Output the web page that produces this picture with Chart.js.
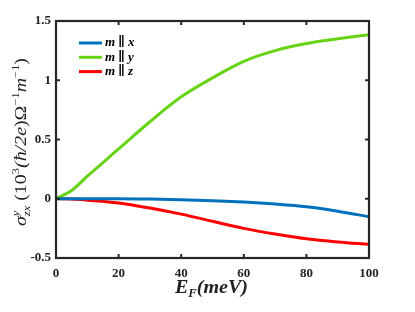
<!DOCTYPE html>
<html><head><meta charset="utf-8">
<script src="https://cdn.jsdelivr.net/npm/chart.js@4/dist/chart.umd.min.js"></script>
<style>html,body{margin:0;padding:0;background:#fff}#wrap{width:415px;height:312px}</style>
</head><body><div id="wrap"><canvas id="c" width="415" height="312"></canvas></div>
<script>
const energies = [0, 5, 10, 20, 30, 40, 50, 60, 70, 80, 90, 100];
const sigmaX = [0, 0, 0, 0, -0.003, -0.008, -0.016, -0.028, -0.045, -0.068, -0.105, -0.152];
const sigmaY = [0, 0.07, 0.19, 0.42, 0.65, 0.86, 1.02, 1.16, 1.25, 1.31, 1.35, 1.385];
const sigmaZ = [0, -0.003, -0.012, -0.035, -0.078, -0.13, -0.19, -0.25, -0.298, -0.338, -0.365, -0.385];
const seriesLabels = ['x', 'y', 'z'];
const xTicks = [0, 20, 40, 60, 80, 100];
const yTicks = [-0.5, 0, 0.5, 1, 1.5];
const colors = ['#0072BD', '#66D414', '#FF0000'];

const mk = (vals) => energies.map((e, i) => ({x: e, y: vals[i]}));
const AX = '#262626';
const SERIF = '"Liberation Serif", "DejaVu Serif", serif';

function drawRich(ctx, parts, targetW) {
  // parts: [text, font, dy, mode] mode: 0 normal, -1 sup (stacked), 1 sub stacked under previous sup
  const measure = () => {
    let w = 0, prevW = 0;
    parts.forEach(p => {
      ctx.font = p[1] + ' ' + SERIF;
      const mw = ctx.measureText(p[0]).width;
      if (p[3] < 0) { prevW = mw; w += mw; }
      else if (p[3] > 0) { w += Math.max(0, mw - prevW); }
      else { w += mw; }
    });
    return w;
  };
  const w = measure();
  ctx.scale(targetW / w, 1);
  let cx = -w / 2, prevW = 0;
  parts.forEach(p => {
    ctx.font = p[1] + ' ' + SERIF;
    const mw = ctx.measureText(p[0]).width;
    if (p[3] > 0) { cx -= prevW; }
    ctx.fillText(p[0], cx, p[2]);
    if (p[3] < 0) { prevW = mw; cx += mw; }
    else if (p[3] > 0) { cx += Math.max(mw, prevW); }
    else { cx += mw; }
  });
}

const framePlugin = {
  id: 'frame',
  afterDraw(chart) {
    const {ctx, chartArea: a, scales} = chart;
    ctx.save();
    ctx.strokeStyle = AX; ctx.lineWidth = 2.2;
    ctx.strokeRect(a.left, a.top, a.right - a.left, a.bottom - a.top);
    ctx.lineWidth = 2;
    const L = 4;
    xTicks.forEach(v => {
      const px = scales.x.getPixelForValue(v);
      ctx.beginPath(); ctx.moveTo(px, a.bottom); ctx.lineTo(px, a.bottom - L);
      ctx.moveTo(px, a.top); ctx.lineTo(px, a.top + L); ctx.stroke();
    });
    yTicks.forEach(v => {
      const py = scales.y.getPixelForValue(v);
      ctx.beginPath(); ctx.moveTo(a.left, py); ctx.lineTo(a.left + L, py);
      ctx.moveTo(a.right, py); ctx.lineTo(a.right - L, py); ctx.stroke();
    });
    // legend
    ctx.fillStyle = '#000';
    chart.data.datasets.forEach((ds, i) => {
      const y = 43 + i * 14.3;
      ctx.strokeStyle = ds.borderColor; ctx.lineWidth = 3;
      ctx.beginPath(); ctx.moveTo(79, y); ctx.lineTo(102, y); ctx.stroke();
      ctx.textBaseline = 'middle'; ctx.textAlign = 'left';
      let x = 105;
      ctx.font = 'italic bold 13px ' + SERIF; ctx.fillText('m', x, y); x += ctx.measureText('m').width + 3;
      ctx.font = 'bold 13px ' + SERIF; ctx.fillText('\u2225', x, y); x += ctx.measureText('\u2225').width + 3;
      ctx.font = 'italic bold 13px ' + SERIF; ctx.fillText(seriesLabels[i], x, y);
    });
    ctx.fillStyle = '#222';
    ctx.textBaseline = 'alphabetic';
    // x title
    ctx.save();
    ctx.translate(211.5, 293);
    drawRich(ctx, [['E', 'italic bold 19px', 0, 0], ['F', 'italic bold 12px', 3.5, 0], ['(meV)', 'italic bold 19px', 0, 0]], 73);
    ctx.restore();
    // y title
    ctx.save();
    ctx.translate(26, 142); ctx.rotate(-Math.PI / 2);
    drawRich(ctx, [
      ['\u03C3', 'italic 16px', 0, 0],
      ['y', 'italic 10px', -7, -1],
      ['zx', 'italic 10px', 4, 1],
      [' (10', '16px', 0, 0],
      ['3', '10px', -7, 0],
      ['(\u0127/2', 'italic 16px', 0, 0],
      ['e', 'italic 16px', 0, 0],
      [')\u03A9', '16px', 0, 0],
      ['\u22121', '10px', -7, 0],
      ['m', 'italic 16px', 0, 0],
      ['\u22121', '10px', -7, 0],
      [')', '16px', 0, 0]
    ], 168);
    ctx.restore();
    ctx.restore();
  }
};

new Chart(document.getElementById('c'), {
  type: 'line',
  data: {
    datasets: [
      {label: 'm || x', data: mk(sigmaX), borderColor: colors[0]},
      {label: 'm || y', data: mk(sigmaY), borderColor: colors[1]},
      {label: 'm || z', data: mk(sigmaZ), borderColor: colors[2]}
    ].map(d => Object.assign(d, {borderWidth: 3, pointRadius: 0, tension: 0.4, cubicInterpolationMode: 'monotone', fill: false}))
  },
  options: {
    responsive: false, animation: false,
    layout: {padding: {left: 0, right: 46, top: 21, bottom: 0}},
    plugins: {legend: {display: false}, tooltip: {enabled: false}},
    scales: {
      x: {
        type: 'linear', min: 0, max: 100,
        afterFit: s => { s.height = 54; },
        afterBuildTicks: s => { s.ticks = xTicks.map(v => ({value: v})); },
        grid: {display: false, drawTicks: false}, border: {display: false},
        ticks: {color: '#222', padding: 8, maxRotation: 0, font: {family: SERIF, weight: 'bold', size: 13}}
      },
      y: {
        type: 'linear', min: -0.5, max: 1.5,
        afterFit: s => { s.width = 56; },
        afterBuildTicks: s => { s.ticks = yTicks.map(v => ({value: v})); },
        grid: {display: false, drawTicks: false}, border: {display: false},
        ticks: {color: '#222', padding: 5, callback: v => String(v), font: {family: SERIF, weight: 'bold', size: 13}}
      }
    }
  },
  plugins: [framePlugin]
});
</script></body></html>
